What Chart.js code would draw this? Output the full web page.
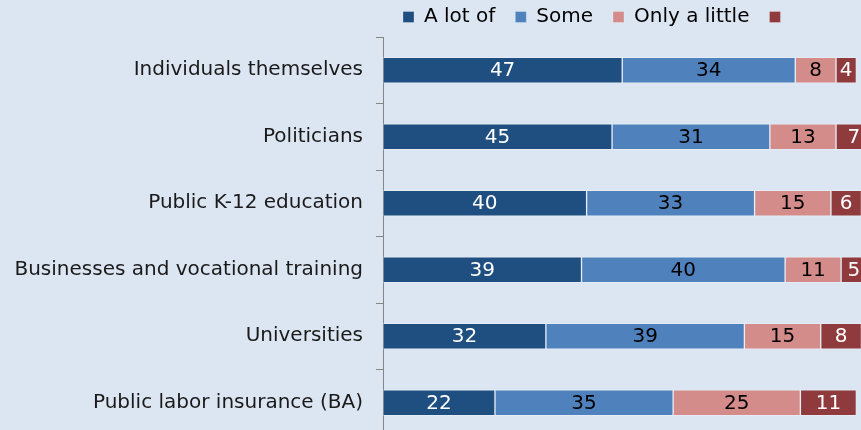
<!DOCTYPE html>
<html>
<head>
<meta charset="utf-8">
<script src="https://cdn.jsdelivr.net/npm/chart.js@4.4.1/dist/chart.umd.min.js"></script>
<style>
  html, body { margin: 0; padding: 0; background: #dce6f2; overflow: hidden; }
  #wrap { position: absolute; left: 0; top: 0; width: 900px; height: 461px; }
</style>
</head>
<body>
<div id="wrap"><canvas id="c"></canvas></div>
<script>
// categories, top to bottom
const categories = [
  'Individuals themselves',
  'Politicians',
  'Public K-12 education',
  'Businesses and vocational training',
  'Universities',
  'Public labor insurance (BA)',
];
const seriesNames = ['A lot of', 'Some', 'Only a little', ''];
const aLotOf     = [47, 45, 40, 39, 32, 22];
const some       = [34, 31, 33, 40, 39, 35];
const onlyLittle = [ 8, 13, 15, 11, 15, 25];
const notAtAll   = [ 4,  7,  6,  5,  8, 11];

const COLORS = {
  dark:  '#1f4e80',
  mid:   '#4f81bd',
  pink:  '#d48c8a',
  red:   '#8f3a3c',
  axis:  '#868686',
  text:  '#1a1a1a',
};
const FONT = 'DejaVu Sans, Verdana, sans-serif';

// draws the value in the middle of each segment
const segmentLabels = {
  id: 'segmentLabels',
  afterDatasetsDraw(chart) {
    const { ctx } = chart;
    ctx.save();
    ctx.font = '20px ' + FONT;
    ctx.textAlign = 'center';
    ctx.textBaseline = 'middle';
    chart.data.datasets.forEach((ds, i) => {
      const meta = chart.getDatasetMeta(i);
      meta.data.forEach((bar, j) => {
        ctx.fillStyle = ds.labelColor;
        ctx.fillText(String(ds.data[j]), (bar.x + bar.base) / 2, bar.y + 1);
      });
    });
    ctx.restore();
  },
};

const mk = (label, data, color, labelColor) => ({
  label, data,
  backgroundColor: color,
  borderColor: 'rgba(255,255,255,0.25)',
  borderWidth: 1,
  borderSkipped: false,
  barThickness: 26,
  labelColor,
});

new Chart(document.getElementById('c'), {
  type: 'bar',
  data: {
    labels: categories,
    datasets: [
      mk(seriesNames[0], aLotOf, COLORS.dark, '#ffffff'),
      mk(seriesNames[1], some, COLORS.mid, '#000000'),
      mk(seriesNames[2], onlyLittle, COLORS.pink, '#000000'),
      mk(seriesNames[3], notAtAll, COLORS.red, '#ffffff'),
    ],
  },
  options: {
    indexAxis: 'y',
    responsive: true,
    maintainAspectRatio: false,
    animation: false,
    layout: { padding: { left: 0, right: 8, top: -13, bottom: 4 } },
    plugins: {
      tooltip: { enabled: false },
      legend: {
        position: 'top',
        align: 'start',
        fullSize: false,
        labels: {
          color: '#000000',
          font: { family: FONT, size: 20 },
          boxWidth: 11,
          boxHeight: 11,
          padding: 20,
        },
      },
    },
    scales: {
      x: {
        stacked: true,
        display: false,
        min: 0,
        max: 100,
      },
      y: {
        stacked: true,
        afterFit(scale) { scale.width = 383; },
        grid: {
          drawOnChartArea: false,
          drawTicks: true,
          tickLength: 7,
          color: COLORS.axis,
        },
        border: { display: true, color: COLORS.axis, width: 1 },
        ticks: {
          color: COLORS.text,
          font: { family: FONT, size: 20 },
          padding: 13,
        },
      },
    },
  },
  plugins: [segmentLabels],
});
</script>
</body>
</html>
